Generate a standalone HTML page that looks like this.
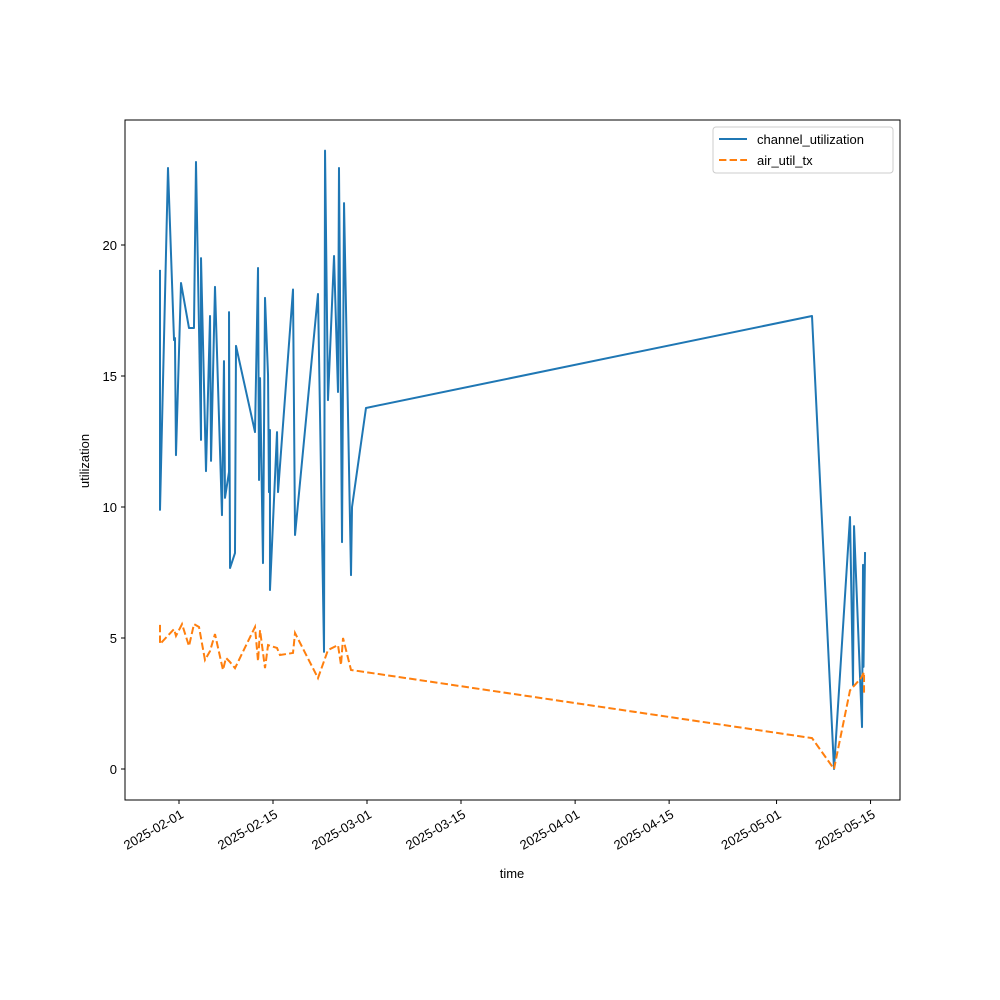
<!DOCTYPE html>
<html><head><meta charset="utf-8"><style>
html,body{margin:0;padding:0;background:#fff;}
svg{display:block;font-family:"Liberation Sans","DejaVu Sans",sans-serif;}
</style></head><body>
<svg id="chart" width="1000" height="1000" viewBox="0 0 1000 1000">
<rect x="0" y="0" width="1000" height="1000" fill="#fff"/>
<g id="plot"></g>
</svg>
<script>
const chanDays=[-2.83,-2.83,-1.64,-0.74,-0.6,-0.45,0.3,1.49,2.23,2.53,3.28,3.28,4.02,4.62,4.77,5.36,6.4,6.7,6.85,7.45,7.45,7.6,8.34,8.49,11.32,11.77,11.92,12.07,12.51,12.81,13.26,13.4,13.55,13.55,14.6,14.75,16.98,17.28,20.7,21.6,21.75,22.19,23.09,23.68,23.83,24.28,24.58,25.62,25.77,27.85,94.28,97.56,99.94,100.39,100.54,101.73,101.88,101.95,102.18];
const chanVals=[19.05,9.89,22.94,16.37,16.45,11.98,18.55,16.83,16.83,23.17,12.56,19.5,11.37,17.29,11.76,18.4,9.69,15.57,10.35,11.34,17.44,7.67,8.24,16.15,12.86,19.12,11.03,14.92,7.86,17.98,15.04,10.57,12.94,6.83,12.86,10.57,18.3,8.93,18.13,4.47,23.6,14.08,19.58,14.39,22.94,8.66,21.6,7.4,10.0,13.78,17.29,0.0,9.62,3.2,9.27,1.6,7.79,3.9,8.28];
const airDays=[-2.83,-2.83,-0.74,-0.45,0.45,1.49,2.23,2.98,3.87,4.62,5.36,6.55,7.0,7.6,8.34,11.32,11.77,12.07,12.81,13.26,14.6,15.04,16.98,17.28,20.7,22.19,23.68,24.13,24.43,25.62,94.28,97.56,99.94,101.58,102.03,102.03];
const airVals=[5.5,4.77,5.34,5.08,5.53,4.69,5.53,5.42,4.16,4.5,5.15,3.78,4.24,4.08,3.85,5.42,4.12,5.3,3.85,4.73,4.62,4.35,4.43,5.19,3.47,4.54,4.73,3.97,5.0,3.78,1.18,0.0,3.0,3.47,3.7,2.9];
const yTicks=[0,5,10,15,20];
const xTickDays=[0,14,28,42,59,73,89,103];
const xTickLabels=["2025-02-01","2025-02-15","2025-03-01","2025-03-15","2025-04-01","2025-04-15","2025-05-01","2025-05-15"];

const NS="http://www.w3.org/2000/svg";
const L=125,R=900,T=120,B=800;
const xs=d=>179+d*6.714;
const ys=v=>769-v*26.2;
const g=document.getElementById('plot');
function mk(tag,attrs,parent){const e=document.createElementNS(NS,tag);for(const k in attrs)e.setAttribute(k,attrs[k]);(parent||g).appendChild(e);return e;}

function pts(ds,vs){return ds.map((d,i)=>xs(d).toFixed(2)+","+ys(vs[i]).toFixed(2)).join(" ");}
const cl=mk('polyline',{points:pts(chanDays,chanVals),fill:'none',stroke:'#1f77b4','stroke-width':2,'stroke-linejoin':'round'});


const al=mk('polyline',{points:pts(airDays,airVals),fill:'none',stroke:'#ff7f0e','stroke-width':2,'stroke-dasharray':'7.4,3.2'});



const fr=mk('rect',{x:L,y:T,width:R-L,height:B-T,fill:'none',stroke:'#000','stroke-width':1});



yTicks.forEach(v=>{
  const y=ys(v);
  mk('line',{x1:L-4,x2:L,y1:y,y2:y,stroke:'#000'});
  const t=mk('text',{x:L-8,y:y+5,'text-anchor':'end','font-size':13});
  t.textContent=v;
  
  
});
xTickDays.forEach((d,i)=>{
  const x=xs(d);
  mk('line',{x1:x,x2:x,y1:B,y2:B+4,stroke:'#000'});
  const t=mk('text',{x:x+1,y:B+9,'text-anchor':'end','font-size':13,transform:`rotate(-30 ${x+1} ${B+9})`,dy:'0.7em'});
  t.textContent=xTickLabels[i];
  
  
});
const xt=mk('text',{x:512,y:878,'text-anchor':'middle','font-size':13});
xt.textContent='time';


const yt=mk('text',{x:89,y:461,'text-anchor':'middle','font-size':13,transform:'rotate(-90 89 461)'});
yt.textContent='utilization';



const lg=mk('g',{});


mk('rect',{x:713,y:127,width:180,height:46,rx:3,fill:'#fff',stroke:'#ccc'},lg);
const e1=mk('g',{},lg);


mk('line',{x1:719,x2:747,y1:139,y2:139,stroke:'#1f77b4','stroke-width':2},e1);
const t1=mk('text',{x:757,y:144,'font-size':13},e1);t1.textContent='channel_utilization';
const e2=mk('g',{},lg);


mk('line',{x1:719,x2:747,y1:160,y2:160,stroke:'#ff7f0e','stroke-width':2,'stroke-dasharray':'7.4,3.2'},e2);
const t2=mk('text',{x:757,y:165,'font-size':13},e2);t2.textContent='air_util_tx';
</script>
</body></html>
